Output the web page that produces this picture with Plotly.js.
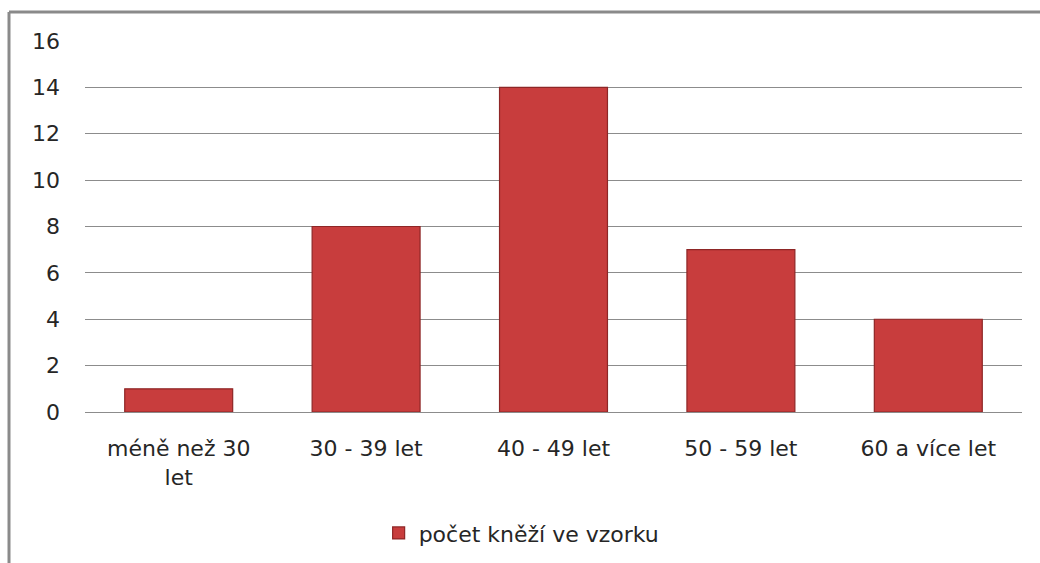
<!DOCTYPE html>
<html>
<head>
<meta charset="utf-8">
<script src="https://cdn.plot.ly/plotly-3.0.1.min.js"></script>
<style>
html,body{margin:0;padding:0;background:#fff;}
#chart{width:1040px;height:563px;}
</style>
</head>
<body>
<div id="chart"></div>
<script>
const categories = ["méně než 30<br>let", "30 - 39 let", "40 - 49 let", "50 - 59 let", "60 a více let"];
const values = [1, 8, 14, 7, 4];
const seriesName = "počet kněží ve vzorku";
const yTicks = [0, 2, 4, 6, 8, 10, 12, 14, 16];

const font = {family: "DejaVu Sans, Noto Sans, sans-serif", size: 22, color: "#262626"};

const trace = {
  type: "bar",
  x: categories,
  y: values,
  name: seriesName,
  showlegend: true,
  marker: {color: "#C83D3D", line: {color: "#8E2626", width: 1.2}},
  hoverinfo: "x+y"
};

const layout = {
  width: 1040, height: 563,
  margin: {l: 85, r: 18, t: 41, b: 151},
  paper_bgcolor: "#ffffff", plot_bgcolor: "#ffffff",
  font: font,
  bargap: 0.424,
  xaxis: {
    type: "category", automargin: false,
    showgrid: false, showline: false, zeroline: false,
    ticks: "", ticklabelstandoff: 21,
    tickfont: font
  },
  yaxis: {
    range: [0, 16], tickvals: yTicks, ticktext: yTicks.map(String), automargin: false,
    showgrid: true, gridcolor: "#8c8c8c", gridwidth: 1,
    zeroline: true, zerolinecolor: "#8c8c8c", zerolinewidth: 1,
    showline: false, ticks: "", ticklabelstandoff: 24,
    tickfont: font
  },
  showlegend: true,
  legend: {
    orientation: "h", x: 0.466, xanchor: "center",
    yref: "container", y: 0.053, yanchor: "middle",
    font: font, itemwidth: 30
  },
  shapes: [
    {type: "line", xref: "paper", yref: "paper", x0: -0.0811, x1: 1.1, y0: 1.078, y1: 1.078,
     line: {color: "#8a8a8a", width: 3}},
    {type: "line", xref: "paper", yref: "paper", x0: -0.0811, x1: -0.0811, y0: 1.078, y1: -0.45,
     line: {color: "#8a8a8a", width: 3}}
  ]
};

Plotly.newPlot("chart", [trace], layout, {displayModeBar: false, staticPlot: true});
</script>
</body>
</html>
